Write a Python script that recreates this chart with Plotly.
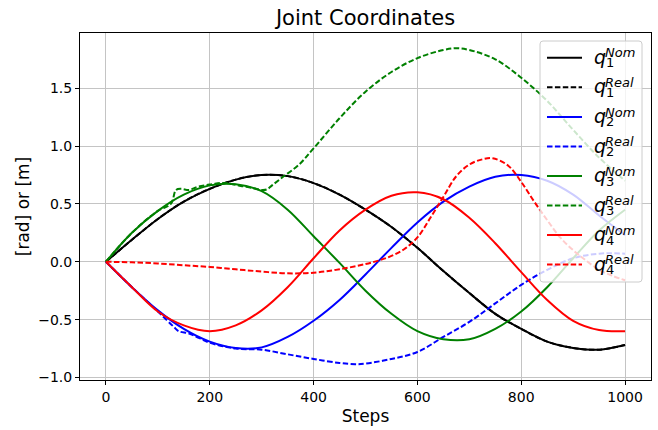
import plotly.graph_objects as go

# ---------------- data ----------------
x_grid = [0, 50, 100, 150, 200, 250, 300, 350, 400, 450, 500,
          550, 600, 650, 700, 750, 800, 850, 900, 950, 1000]

q1_nom = [0, 0.19, 0.37, 0.52, 0.63, 0.71, 0.75, 0.74, 0.68, 0.58, 0.45,
          0.30, 0.12, -0.08, -0.27, -0.45, -0.58, -0.69, -0.745, -0.76, -0.72]
q1_real = [0, 0.19, 0.37, 0.52, 0.63, 0.71, 0.75, 0.74, 0.68, 0.58, 0.45,
           0.30, 0.12, -0.08, -0.27, -0.45, -0.58, -0.69, -0.745, -0.76, -0.72]

q2_nom = [0, -0.22, -0.42, -0.58, -0.69, -0.745, -0.74, -0.65, -0.51, -0.33, -0.11,
          0.12, 0.34, 0.52, 0.65, 0.735, 0.75, 0.70, 0.58, 0.40, 0.23]
x_q2_real = [0, 50, 100, 130, 140, 160, 180, 200, 250, 300, 350, 400, 450, 480, 500,
             550, 600, 650, 700, 750, 800, 850, 900, 950, 1000]
q2_real = [0, -0.22, -0.43, -0.56, -0.60, -0.62, -0.66, -0.70, -0.75, -0.76, -0.80, -0.84, -0.875, -0.885, -0.88,
           -0.84, -0.78, -0.65, -0.52, -0.36, -0.20, -0.07, 0.03, 0.07, 0.07]

q3_nom = [0, 0.25, 0.44, 0.58, 0.66, 0.67, 0.61, 0.45, 0.22, -0.01, -0.25,
          -0.45, -0.60, -0.67, -0.67, -0.58, -0.43, -0.22, 0.03, 0.27, 0.45]
x_q3_real = [0, 50, 100, 125, 135, 145, 160, 175, 190, 205, 220, 240, 260, 280, 300, 310,
             320, 340, 372, 400, 450, 500, 550, 600, 650, 675, 700, 750, 800, 850, 900, 950, 1000]
q3_real = [0, 0.25, 0.44, 0.50, 0.62, 0.63, 0.62, 0.645, 0.66, 0.67, 0.68, 0.675, 0.655, 0.64, 0.62, 0.625,
           0.66, 0.73, 0.84, 0.98, 1.24, 1.47, 1.64, 1.76, 1.83, 1.845, 1.83, 1.75, 1.59, 1.39, 1.14, 0.90, 0.70]

q4_nom = [0, -0.22, -0.43, -0.55, -0.60, -0.55, -0.42, -0.22, 0.03, 0.27, 0.45,
          0.57, 0.60, 0.54, 0.38, 0.16, -0.09, -0.33, -0.51, -0.59, -0.60]
x_q4_real = [0, 50, 100, 150, 200, 250, 300, 350, 400, 450, 500, 525, 550, 575, 600, 625, 650, 675,
             700, 725, 745, 775, 800, 825, 850, 875, 900, 925, 950, 975, 1000]
q4_real = [0, -0.005, -0.015, -0.03, -0.045, -0.065, -0.085, -0.10, -0.095, -0.065, -0.02, 0.01, 0.05, 0.11, 0.21, 0.38, 0.56, 0.74,
           0.84, 0.885, 0.895, 0.83, 0.69, 0.52, 0.36, 0.21, 0.10, 0.01, -0.07, -0.12, -0.16]

subs = ["1", "1", "2", "2", "3", "3", "4", "4"]
sups = ["Nom", "Real", "Nom", "Real", "Nom", "Real", "Nom", "Real"]
colors = ["#000000", "#000000", "#0000ff", "#0000ff", "#008000", "#008000", "#ff0000", "#ff0000"]
dashes = ["solid", "5.5px,2.4px"] * 4

series = [(x_grid, q1_nom), (x_grid, q1_real), (x_grid, q2_nom), (x_q2_real, q2_real),
          (x_grid, q3_nom), (x_q3_real, q3_real), (x_grid, q4_nom), (x_q4_real, q4_real)]

x_ticks = [0, 200, 400, 600, 800, 1000]
y_ticks = [-1.0, -0.5, 0.0, 0.5, 1.0, 1.5]

FONT = "DejaVu Sans"

fig = go.Figure()
for (xs, ys), c, d, sb, sp in zip(series, colors, dashes, subs, sups):
    fig.add_trace(go.Scatter(
        x=xs, y=ys, mode="lines",
        line=dict(color=c, width=2, dash=d, shape="spline", smoothing=1.0),
        name=f"q_{sb}^{sp}", showlegend=False, hoverinfo="skip"))

# ---------------- layout ----------------
L, R, T, B = 80, 651, 33, 380
W, H = 658, 430


def px_x(px):
    return (px - L) / (R - L)


def px_y(py):
    return (B - py) / (B - T)


fig.update_layout(
    width=W, height=H,
    margin=dict(l=L, r=W - R, t=T, b=H - B),
    paper_bgcolor="white", plot_bgcolor="white",
    font=dict(family=FONT, size=14, color="#000000"),
    title=dict(text="Joint Coordinates", x=px_x(365.5), xref="paper", xanchor="center",
               y=1 - 18 / H, yref="container", yanchor="middle",
               font=dict(size=21, family=FONT, color="#000000")),
)

axis_common = dict(showline=True, linecolor="#000000", linewidth=1, mirror=True,
                   ticks="outside", ticklen=4, tickwidth=1, tickcolor="#000000",
                   showgrid=True, gridcolor="#c4c4c4", gridwidth=1, zeroline=False,
                   tickfont=dict(size=14, family=FONT, color="#000000"))

fig.update_xaxes(range=[-50, 1050], tickvals=x_ticks, ticktext=[str(v) for v in x_ticks],
                 title=dict(text="Steps", font=dict(size=17, family=FONT), standoff=6),
                 **axis_common)
fig.update_yaxes(range=[-1.022, 1.977], tickvals=y_ticks, tickformat=".1f",
                 title=dict(text="[rad] or [m]", font=dict(size=17, family=FONT), standoff=4),
                 **axis_common)

# ---------------- legend (drawn manually for stacked sub/superscripts) ----------------
lx0, lx1, ly0, ly1, rad = 540, 642, 41, 282, 3
path = (f"M {px_x(lx0 + rad)},{px_y(ly0)} L {px_x(lx1 - rad)},{px_y(ly0)} "
        f"Q {px_x(lx1)},{px_y(ly0)} {px_x(lx1)},{px_y(ly0 + rad)} "
        f"L {px_x(lx1)},{px_y(ly1 - rad)} Q {px_x(lx1)},{px_y(ly1)} {px_x(lx1 - rad)},{px_y(ly1)} "
        f"L {px_x(lx0 + rad)},{px_y(ly1)} Q {px_x(lx0)},{px_y(ly1)} {px_x(lx0)},{px_y(ly1 - rad)} "
        f"L {px_x(lx0)},{px_y(ly0 + rad)} Q {px_x(lx0)},{px_y(ly0)} {px_x(lx0 + rad)},{px_y(ly0)} Z")
fig.add_shape(type="path", path=path, xref="paper", yref="paper",
              fillcolor="rgba(255,255,255,0.8)", line=dict(color="#cccccc", width=1), layer="above")

centers = [57.7, 87.3, 117.0, 146.5, 176.0, 205.5, 235.0, 264.5]
for cy, c, d, sb, sp in zip(centers, colors, dashes, subs, sups):
    fig.add_shape(type="line", xref="paper", yref="paper",
                  x0=px_x(547), x1=px_x(582), y0=px_y(cy), y1=px_y(cy),
                  line=dict(color=c, width=2, dash=d), layer="above")
    fig.add_annotation(text="<i>q</i>", xref="paper", yref="paper", x=px_x(593), y=px_y(cy - 1),
                       xanchor="left", yanchor="middle", showarrow=False,
                       font=dict(size=19, family=FONT, color="#000000"), borderpad=0)
    fig.add_annotation(text=f"<i>{sp}</i>", xref="paper", yref="paper", x=px_x(604), y=px_y(cy - 5),
                       xanchor="left", yanchor="middle", showarrow=False,
                       font=dict(size=13, family=FONT, color="#000000"), borderpad=0)
    fig.add_annotation(text=sb, xref="paper", yref="paper", x=px_x(604.5), y=px_y(cy + 5),
                       xanchor="left", yanchor="middle", showarrow=False,
                       font=dict(size=13, family=FONT, color="#000000"), borderpad=0)

fig.write_html("out.html")
